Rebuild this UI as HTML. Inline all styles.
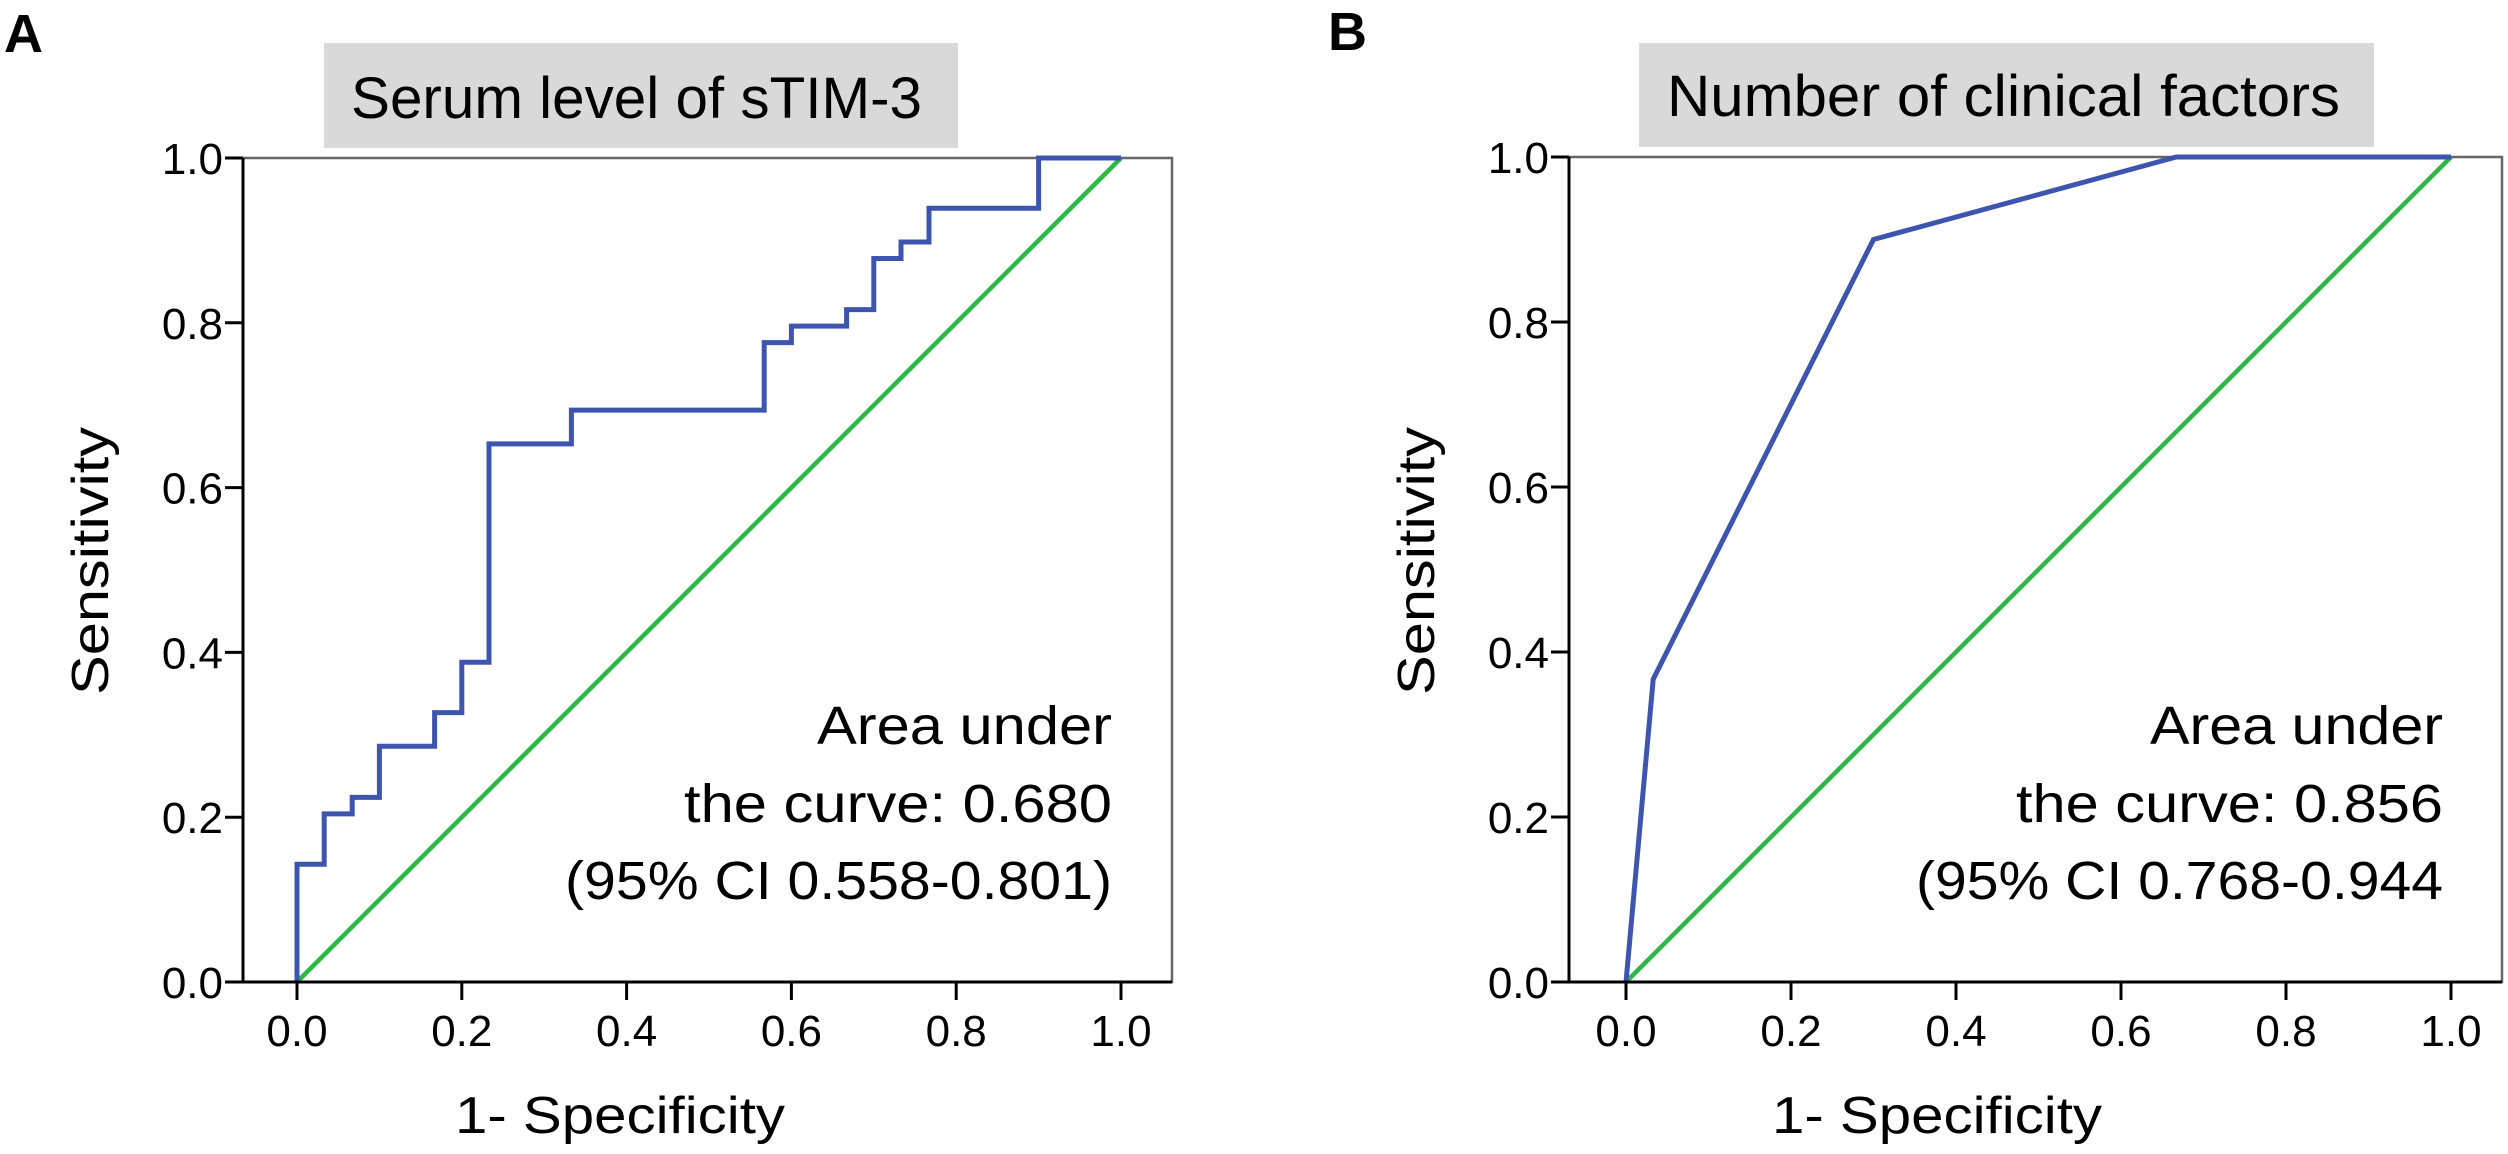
<!DOCTYPE html>
<html><head><meta charset="utf-8"><style>
html,body{margin:0;padding:0;background:#fff;}
svg{display:block;font-family:"Liberation Sans",sans-serif;}
</style></head><body>
<svg id="fig" width="2508" height="1154" viewBox="0 0 2508 1154" xmlns="http://www.w3.org/2000/svg">
<rect x="0" y="0" width="2508" height="1154" fill="#fff"/>
<text x="4" y="52" font-size="54" font-weight="bold">A</text>
<text x="1328" y="50" font-size="54" font-weight="bold">B</text>
<g id="pA"></g>
<g id="pB"></g>
</svg>
<script>
// Panel A data
const aFpr  = [0, 0, 0.033, 0.033, 0.067, 0.067, 0.1, 0.1, 0.167, 0.167, 0.2, 0.2, 0.233, 0.233, 0.333, 0.333, 0.567, 0.567, 0.6, 0.6, 0.667, 0.667, 0.7, 0.7, 0.733, 0.733, 0.767, 0.767, 0.9, 0.9, 1.0];
const aTpr  = [0, 0.143, 0.143, 0.204, 0.204, 0.224, 0.224, 0.286, 0.286, 0.327, 0.327, 0.388, 0.388, 0.653, 0.653, 0.694, 0.694, 0.776, 0.776, 0.796, 0.796, 0.816, 0.816, 0.878, 0.878, 0.898, 0.898, 0.939, 0.939, 1.0, 1.0];
// Panel B data
const bFpr  = [0, 0.033, 0.3, 0.667, 1.0];
const bTpr  = [0, 0.367, 0.9, 1.0, 1.0];
const refLine = [0, 1];
const tickVals = [0, 0.2, 0.4, 0.6, 0.8, 1.0];
const tickLabels = ["0.0", "0.2", "0.4", "0.6", "0.8", "1.0"];
const aTitle = "Serum level of sTIM-3";
const bTitle = "Number of clinical factors";
const aNote = ["Area under", "the curve: 0.680", "(95% CI 0.558-0.801)"];
const bNote = ["Area under", "the curve: 0.856", "(95% CI 0.768-0.944"];

const NS = "http://www.w3.org/2000/svg";
function mk(tag, attrs, parent) {
  const e = document.createElementNS(NS, tag);
  for (const k in attrs) e.setAttribute(k, attrs[k]);
  parent.appendChild(e);
  return e;
}
function panel(g, cfg) {
  const sx = v => cfg.x0 + v * (cfg.x1 - cfg.x0);
  const sy = v => cfg.y0 - v * (cfg.y0 - cfg.y1);
  // title box
  const tb = mk("rect", {x: cfg.tb[0], y: cfg.tb[1], width: cfg.tb[2], height: cfg.tb[3], fill: "#d9d9d9"}, g);
  
  
  const tt = mk("text", {x: cfg.tt[0], y: cfg.tt[1], "font-size": 58, textLength: cfg.tt[2], lengthAdjust: "spacingAndGlyphs"}, g);
  tt.textContent = cfg.title;
  
  
  // frame
  const fr = mk("rect", {x: cfg.ax, y: cfg.y1, width: cfg.fr - cfg.ax, height: cfg.y0 - cfg.y1, fill: "none", stroke: "#666", "stroke-width": 2.5}, g);
  
  
  // reference diagonal
  const d = mk("line", {x1: sx(refLine[0]), y1: sy(refLine[0]), x2: sx(refLine[1]), y2: sy(refLine[1]), stroke: "#2cb844", "stroke-width": 4.5}, g);
  
  
  // ROC curve
  const pts = cfg.fx.map((v, i) => sx(v).toFixed(1) + "," + sy(cfg.fy[i]).toFixed(1)).join(" ");
  const c = mk("polyline", {points: pts, fill: "none", stroke: "#3e55b0", "stroke-width": 5, "stroke-linejoin": "miter"}, g);
  
  
  // axes
  const ya = mk("line", {x1: cfg.ax, y1: cfg.y1, x2: cfg.ax, y2: cfg.y0, stroke: "#000", "stroke-width": 3}, g);
  
  
  const xa = mk("line", {x1: cfg.ax - 18, y1: cfg.y0, x2: cfg.fr, y2: cfg.y0, stroke: "#000", "stroke-width": 3}, g);
  
  
  tickVals.forEach((v, i) => {
    const xt = mk("line", {x1: sx(v), y1: cfg.y0, x2: sx(v), y2: cfg.y0 + 18, stroke: "#000", "stroke-width": 3}, g);
    
    
    const xl = mk("text", {x: sx(v), y: cfg.y0 + 64, "font-size": 44, "text-anchor": "middle"}, g);
    xl.textContent = tickLabels[i];
    
    
    const yt = mk("line", {x1: cfg.ax - 18, y1: sy(v), x2: cfg.ax, y2: sy(v), stroke: "#000", "stroke-width": 3}, g);
    
    
    const yl = mk("text", {x: cfg.ax - 20, y: sy(v) + 16, "font-size": 44, "text-anchor": "end"}, g);
    yl.textContent = tickLabels[i];
    
    
  });
  const xt = mk("text", {x: cfg.xt[0], y: 1133, "font-size": 52, textLength: 330, lengthAdjust: "spacingAndGlyphs"}, g);
  xt.textContent = "1- Specificity";
  
  
  const yT = mk("text", {x: 0, y: 0, "font-size": 52, "text-anchor": "middle", textLength: 268, lengthAdjust: "spacingAndGlyphs", transform: "translate(" + cfg.ytx + ",561) rotate(-90)"}, g);
  yT.textContent = "Sensitivity";
  
  
  cfg.note.forEach((s, i) => {
    const n = mk("text", {x: cfg.nx, y: [744, 822, 899][i], "font-size": 54, "text-anchor": "end", textLength: cfg.nw[i], lengthAdjust: "spacingAndGlyphs"}, g);
    n.textContent = s;
    
    
  });
}
panel(document.getElementById("pA"), {x0: 297, x1: 1121, y0: 982, y1: 158, ax: 243, fr: 1172,
  tb: [324, 43, 634, 105], tt: [351, 118, 571], title: aTitle, fx: aFpr, fy: aTpr,
  xt: [455], ytx: 108, note: aNote, nx: 1112, nw: [295, 428, 547]});
panel(document.getElementById("pB"), {x0: 1626, x1: 2451, y0: 982, y1: 157, ax: 1569, fr: 2502,
  tb: [1639, 43, 735, 104], tt: [1667, 116, 673], title: bTitle, fx: bFpr, fy: bTpr,
  xt: [1772], ytx: 1434, note: bNote, nx: 2443, nw: [293, 427, 527]});
</script>
</body></html>
